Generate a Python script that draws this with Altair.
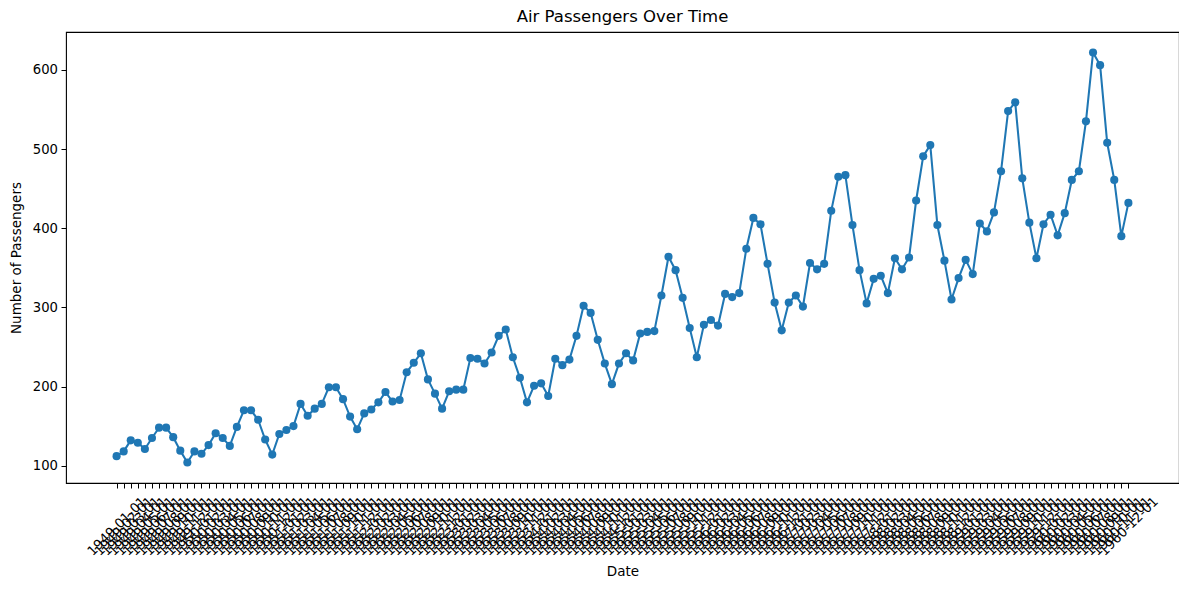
import altair as alt
import pandas as pd

years = list(range(1949, 1961))
passengers = [
    112, 118, 132, 129, 121, 135, 148, 148, 136, 119, 104, 118,
    115, 126, 141, 135, 125, 149, 170, 170, 158, 133, 114, 140,
    145, 150, 178, 163, 172, 178, 199, 199, 184, 162, 146, 166,
    171, 180, 193, 181, 183, 218, 230, 242, 209, 191, 172, 194,
    196, 196, 236, 235, 229, 243, 264, 272, 237, 211, 180, 201,
    204, 188, 235, 227, 234, 264, 302, 293, 259, 229, 203, 229,
    242, 233, 267, 269, 270, 315, 364, 347, 312, 274, 237, 278,
    284, 277, 317, 313, 318, 374, 413, 405, 355, 306, 271, 306,
    315, 301, 356, 348, 355, 422, 465, 467, 404, 347, 305, 336,
    340, 318, 362, 348, 363, 435, 491, 505, 404, 359, 310, 337,
    360, 342, 406, 396, 420, 472, 548, 559, 463, 407, 362, 405,
    417, 391, 419, 461, 472, 535, 622, 606, 508, 461, 390, 432,
]
dates = [f"{y}-{m:02d}-01" for y in years for m in range(1, 13)]
y_ticks = [100, 200, 300, 400, 500, 600]

df = pd.DataFrame({"Date": dates, "Passengers": passengers})

FONT = "DejaVu Sans"
color = "#1f77b4"

W, H = 1113, 451
step = W / (143 + 2 * 7.15)
x_range = [7.15 * step, W - 7.15 * step]

x = alt.X(
    "Date:O",
    sort=dates,
    scale=alt.Scale(type="point", padding=0, range=x_range),
    axis=alt.Axis(
        title="Date",
        labelAngle=-45,
        labelAlign="center",
        labelBaseline="middle",
        labelPadding=38,
        labelOverlap=False,
        labelBound=False,
        labelFlush=False,
        labelFontSize=13.2,
        labelColor="black",
        labelFont=FONT,
        tickSize=5,
        tickColor="black",
        tickWidth=1,
        domain=False,
        grid=False,
        titleFontSize=13.5,
        titleFontWeight="normal",
        titleFont=FONT,
        titleColor="black",
        titleY=88,
        titleBaseline="middle",
    ),
)
y = alt.Y(
    "Passengers:Q",
    scale=alt.Scale(domain=[78.1, 647.9], nice=False, zero=False),
    axis=alt.Axis(
        title="Number of Passengers",
        values=y_ticks,
        labelFontSize=13.2,
        labelColor="black",
        labelFont=FONT,
        labelPadding=3.5,
        tickSize=5,
        tickColor="black",
        tickWidth=1,
        domain=False,
        grid=False,
        titleFontSize=13.5,
        titleFontWeight="normal",
        titleFont=FONT,
        titleColor="black",
        titleX=-50,
        titleBaseline="middle",
    ),
)

base = alt.Chart(df)
line = base.mark_line(color=color, strokeWidth=2.06).encode(x=x, y=y)
pts = base.mark_circle(color=color, size=66, opacity=1).encode(x=x, y=y)

chart = (
    alt.layer(line, pts)
    .properties(
        width=W,
        height=H,
        title=alt.TitleParams(
            "Air Passengers Over Time",
            fontSize=16.5,
            fontWeight="normal",
            font=FONT,
            color="black",
            anchor="middle",
            offset=7,
        ),
        autosize=alt.AutoSizeParams(type="none"),
        padding={"left": 58, "top": 24, "right": 0, "bottom": 97},
        background="white",
    )
    .configure_view(stroke="black", strokeWidth=1.1)
)

chart.save("out.html", embed_options={"renderer": "svg", "actions": False})
